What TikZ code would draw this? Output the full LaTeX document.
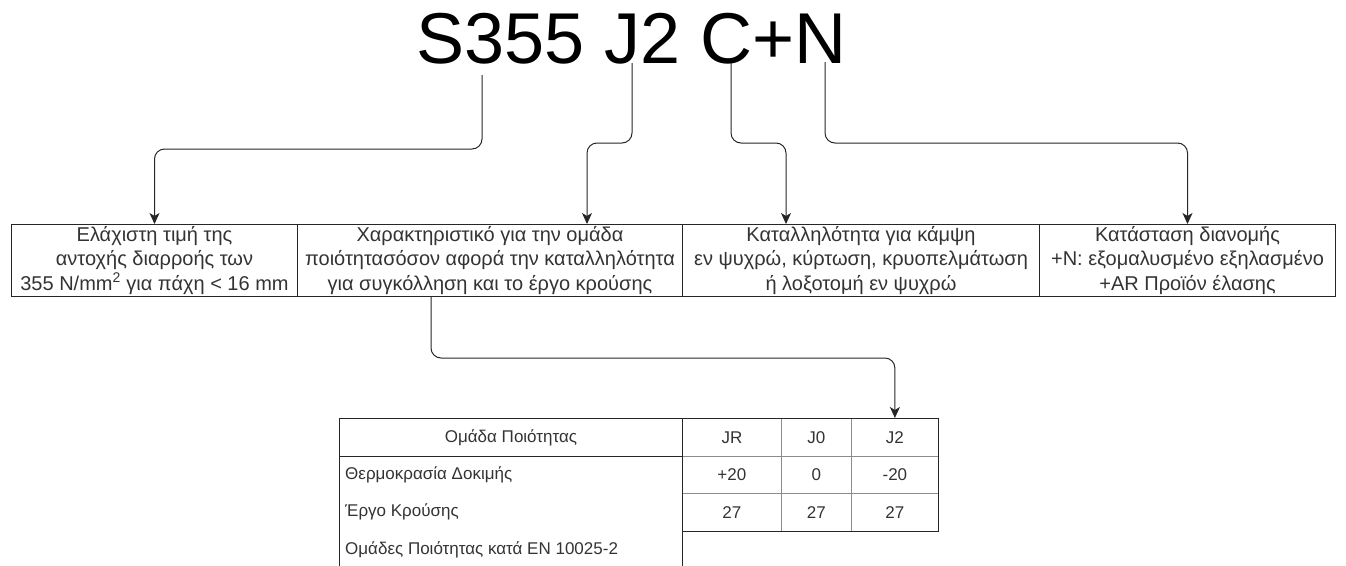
\documentclass[tikz,border=0pt]{standalone}
\usepackage{fontspec}
\setmainfont{Liberation Sans}
\usetikzlibrary{arrows.meta}

\begin{document}
\begin{tikzpicture}[
	x=1pt,
	y=-1pt,
	box/.style={draw=black!85, line width=1pt, minimum height=72pt, inner sep=0pt, align=center, anchor=north west, font=\fontsize{20}{24.5}\selectfont, text=black!80},
	cell/.style={draw=black!45, line width=0.8pt, minimum height=37.7pt, inner sep=0pt, anchor=north west, font=\fontsize{17}{20}\selectfont, text=black!80},
	colbox/.style={draw=black!85, line width=1pt, inner sep=0pt, anchor=north west, font=\fontsize{17}{20}\selectfont, text=black!80},
	rowlbl/.style={anchor=west, inner sep=0pt, font=\fontsize{17}{20}\selectfont, text=black!80},
	link/.style={draw=black!85, line width=1pt, rounded corners=10pt, -{Stealth[length=11pt,width=10pt,inset=3pt]}}
	]
	\useasboundingbox (0,0) rectangle (1346,565);

	% designation
	\node[font=\fontsize{72}{86}\selectfont, anchor=base] (title) at (631.5,63) {S355 J2 C+N};

	% explanation boxes
	\node[box, minimum width=286pt] (b1) at (11,224) {Ελάχιστη τιμή της\\αντοχής διαρροής των\\355 N/mm\textsuperscript{2} για πάχη < 16 mm};
	\node[box, minimum width=385pt] (b2) at (297,224) {Χαρακτηριστικό για την ομάδα\\ποιότητασόσον αφορά την καταλληλότητα\\για συγκόλληση και το έργο κρούσης};
	\node[box, minimum width=357pt] (b3) at (682,224) {Καταλληλότητα για κάμψη\\εν ψυχρώ, κύρτωση, κρυοπελμάτωση\\ή λοξοτομή εν ψυχρώ};
	\node[box, minimum width=296pt] (b4) at (1039,224) {Κατάσταση διανομής\\+N: εξομαλυσμένο εξηλασμένο\\+AR Προϊόν έλασης};

	% quality group table
	\node[colbox, minimum width=343pt, minimum height=37.7pt] (hdr) at (339,418) {Ομάδα Ποιότητας};
	\node[colbox, minimum width=343pt, minimum height=116pt] (lbody) at (339,455.7) {};
	\node[rowlbl] (lt) at (345,474.5) {Θερμοκρασία Δοκιμής};
	\node[rowlbl] (le) at (345,512.2) {Έργο Κρούσης};
	\node[rowlbl] (lg) at (345,550) {Ομάδες Ποιότητας κατά EN 10025-2};

	\node[cell, minimum width=99pt] (jr) at (682,418) {JR};
	\node[cell, minimum width=70pt] (jo) at (781,418) {J0};
	\node[cell, minimum width=87pt] (jtwo) at (851,418) {J2};
	\node[cell, minimum width=99pt] (tr) at (682,455.7) {+20};
	\node[cell, minimum width=70pt] (to) at (781,455.7) {0};
	\node[cell, minimum width=87pt] (tt) at (851,455.7) {-20};
	\node[cell, minimum width=99pt] (er) at (682,493.4) {27};
	\node[cell, minimum width=70pt] (eo) at (781,493.4) {27};
	\node[cell, minimum width=87pt] (et) at (851,493.4) {27};
	\draw[draw=black!85, line width=1pt] (jr.north west) rectangle (et.south east);

	% connectors
	\coordinate (sS) at (482,75);
	\coordinate (sJ) at (632,63);
	\coordinate (sC) at (731,63);
	\coordinate (sN) at (825,62);
	\coordinate (eJ) at (587,0);
	\coordinate (eC) at (786,0);
	\coordinate (qx) at (431,0);

	\draw[link] (sS) -- ++(0,74) -| (b1.north);
	\draw[link] (sJ) -- ++(0,80) -| (b2.north -| eJ);
	\draw[link] (sC) -- ++(0,80) -| (b3.north -| eC);
	\draw[link] (sN) -- ++(0,81) -| (b4.north);
	\draw[link] (b2.south -| qx) -- ++(0,61) -| (jtwo.north);
\end{tikzpicture}
\end{document}
